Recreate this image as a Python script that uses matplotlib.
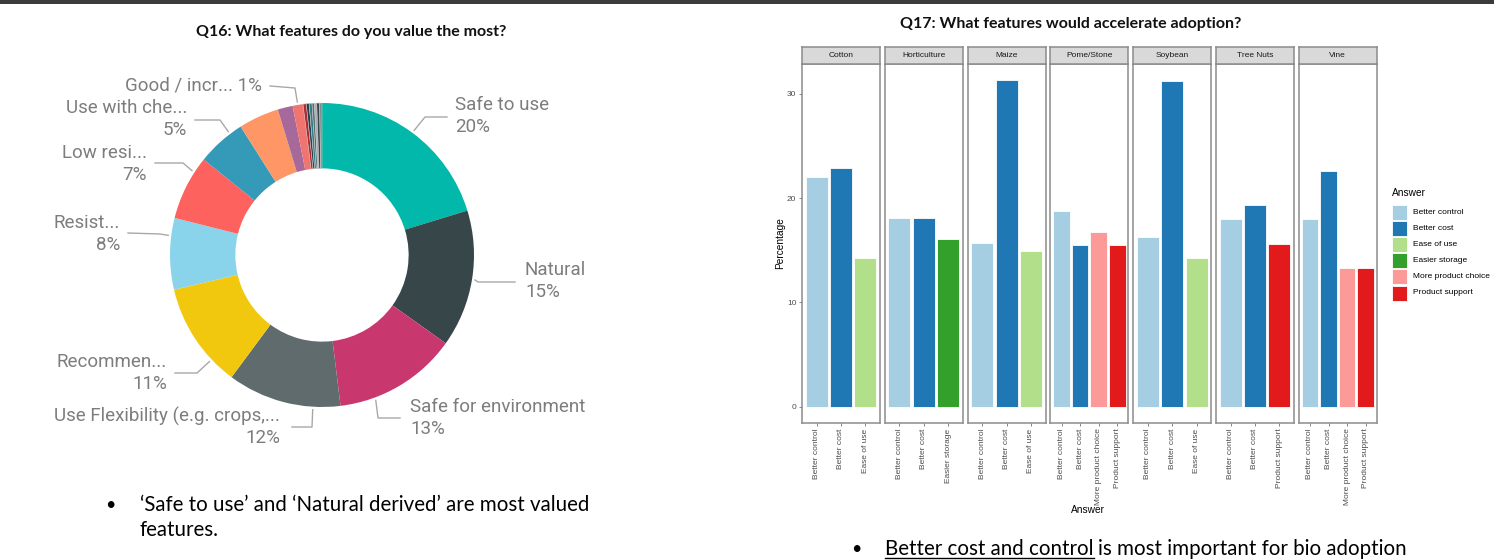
import matplotlib
matplotlib.use('agg')
import numpy as np
import matplotlib.pyplot as plt
from matplotlib.patches import Rectangle

W, H = 1494, 560

# ---- Q16 donut data ----
q16_labels = ['Safe to use', 'Natural', 'Safe for environment',
              'Use Flexibility (e.g. crops,...', 'Recommen...', 'Resist...',
              'Low resi...', 'Use with che...', 'Other 1', 'Other 2',
              'Good / incr...', 'Other 3', 'Other 4', 'Other 5', 'Other 6',
              'Other 7', 'Other 8', 'Other 9']
q16_values = [20.3, 14.6, 13.2, 12.1, 11.2, 7.6, 6.9, 5.2, 4.3, 1.6, 1.1,
              0.35, 0.3, 0.3, 0.25, 0.25, 0.3, 0.25]
q16_colors = ['#01B8AA', '#374649', '#C9376F', '#5F6B6D', '#F2C80F',
              '#8AD4EB', '#FD625E', '#3599B8', '#FE9666', '#A66999',
              '#F07470', '#B5282E', '#2C3E4A', '#2E7F86', '#5C6B70',
              '#A5B0B5', '#374649', '#7F8C8D']

# ---- Q17 facet data ----
crops = ['Cotton', 'Horticulture', 'Maize', 'Pome/Stone', 'Soybean',
         'Tree Nuts', 'Vine']
crop_answers = [
    ['Better control', 'Better cost', 'Ease of use'],
    ['Better control', 'Better cost', 'Easier storage'],
    ['Better control', 'Better cost', 'Ease of use'],
    ['Better control', 'Better cost', 'More product choice', 'Product support'],
    ['Better control', 'Better cost', 'Ease of use'],
    ['Better control', 'Better cost', 'Product support'],
    ['Better control', 'Better cost', 'More product choice', 'Product support'],
]
crop_pct = [
    [22.0, 22.9, 14.3],
    [18.1, 18.1, 16.1],
    [15.7, 31.3, 14.9],
    [18.8, 15.5, 16.8, 15.5],
    [16.3, 31.2, 14.3],
    [18.0, 19.3, 15.6],
    [18.0, 22.6, 13.3, 13.3],
]
answers = ['Better control', 'Better cost', 'Ease of use', 'Easier storage',
           'More product choice', 'Product support']
answer_colors = ['#A6CEE3', '#1F78B4', '#B2DF8A', '#33A02C', '#FB9A99',
                 '#E31A1C']
col_of = dict(zip(answers, answer_colors))

fig = plt.figure(figsize=(W / 100, H / 100), dpi=100)

# full-figure pixel canvas for the donut and slide text
base = fig.add_axes([0, 0, 1, 1])
cx, cy, R = 322, 255, 152
wedges, _ = base.pie(q16_values, colors=q16_colors, startangle=90,
                     counterclock=False, center=(cx, H - cy), radius=R,
                     wedgeprops=dict(width=R * 0.43, edgecolor='none'))
for w in wedges[11:]:
    w.set_edgecolor('#c8c8c8')
    w.set_linewidth(0.4)
base.set_xlim(0, W)
base.set_ylim(0, H)
base.set_aspect('auto')
base.axis('off')

# top dark band of the slide
base.add_patch(Rectangle((0, H - 3.5), W, 3.5, color='#3b3b3b', lw=0))

lbl_font = 'Roboto'
lbl_col = '#7d7d7d'
line_col = '#a8a8a8'
lbl_size = 13.5
# idx: (frac in wedge, elbow px, end px, text px, align)
label_layout = {
    0: (0.5, (425, 117), (447, 117), (455, 105), 'left'),
    1: (0.5, (478, 282), (515, 282), (525, 270), 'left'),
    2: (0.72, (378, 418), (400, 418), (410, 407), 'left'),
    3: (0.24, (312, 427), (292, 427), (280, 416), 'right'),
    4: (0.25, (197, 373), (175, 373), (167, 362), 'right'),
    5: (0.75, (160, 234), (128, 233), (120, 223), 'right'),
    6: (0.76, (183, 163), (155, 163), (147, 153), 'right'),
    7: (0.74, (220, 120), (195, 120), (187, 108), 'right'),
    10: (0.5, (295, 88), (270, 86), (262, 86), 'right'),
}
total = sum(q16_values)
cum = np.concatenate([[0], np.cumsum(q16_values)]) / total * 360
for i, (frac, elbow, end, tpos, ha) in label_layout.items():
    ang = np.deg2rad(cum[i] + frac * (cum[i + 1] - cum[i]))
    sx = cx + (R + 3) * np.sin(ang)
    sy = cy - (R + 3) * np.cos(ang)
    xs = [sx, elbow[0], end[0]]
    ys = [H - sy, H - elbow[1], H - end[1]]
    base.plot(xs, ys, color=line_col, lw=1, clip_on=False)
    pct = '%d%%' % round(q16_values[i])
    if i == 10:
        base.text(tpos[0], H - tpos[1], q16_labels[i] + ' ' + pct, ha=ha,
                  va='center', fontsize=lbl_size, color=lbl_col,
                  family=lbl_font)
    else:
        base.text(tpos[0], H - tpos[1], q16_labels[i], ha=ha, va='center',
                  fontsize=lbl_size, color=lbl_col, family=lbl_font)
        base.text(tpos[0], H - tpos[1] - 22, pct, ha=ha, va='center',
                  fontsize=lbl_size, color=lbl_col, family=lbl_font)

# titles
base.text(351, H - 32, 'Q16: What features do you value the most?',
          ha='center', va='center', fontsize=11.5, fontweight='bold',
          family='Lato', color='#111111')
base.text(1071, H - 24, 'Q17: What features would accelerate adoption?',
          ha='center', va='center', fontsize=11.5, fontweight='bold',
          family='Lato', color='#111111')

# bullets
bfs = 14.8
base.text(105, H - 505, '\u2022', ha='left', va='center', fontsize=13,
          family='Lato', color='black')
base.text(140, H - 505, '\u2018Safe to use\u2019 and \u2018Natural derived\u2019 '
          'are most valued', ha='left', va='center', fontsize=bfs,
          family='Lato', color='black')
base.text(140, H - 530, 'features.', ha='left', va='center', fontsize=bfs,
          family='Lato', color='black')
base.text(851, H - 549, '\u2022', ha='left', va='center', fontsize=13,
          family='Lato', color='black')
t1 = base.text(885, H - 549, 'Better cost and control', ha='left',
               va='center', fontsize=bfs, family='Lato', color='black')
fig.canvas.draw()
bb = t1.get_window_extent().transformed(base.transData.inverted())
base.plot([bb.x0, bb.x1], [bb.y0 + 1, bb.y0 + 1], color='black', lw=1)
base.text(bb.x1 + 4, H - 549, 'is most important for bio adoption',
          ha='left', va='center', fontsize=bfs, family='Lato', color='black')

# ---- Q17 facets ----
gg_font = 'Liberation Sans'
gfs = 6
top_px, bot_px, strip_px = 64, 423, 17
left0, step, pw = 802, 82.8, 78
ymax = max(max(v) for v in crop_pct)
pad = ymax * 0.05
for i, crop in enumerate(crops):
    lx = left0 + i * step
    ax = fig.add_axes([lx / W, 1 - bot_px / H, pw / W, (bot_px - top_px) / H])
    n = len(crop_answers[i])
    pos = np.arange(1, n + 1)
    ax.bar(pos, crop_pct[i], width=0.9,
           color=[col_of[a] for a in crop_answers[i]],
           edgecolor='white', linewidth=0.6)
    ax.set_xlim(0.4, n + 0.6)
    ax.set_ylim(-pad, ymax + pad)
    ax.set_xticks(pos)
    ax.set_xticklabels(crop_answers[i], rotation=90, fontsize=gfs,
                       color='#4d4d4d', family=gg_font)
    ax.tick_params(axis='x', length=2.5, width=0.5, color='#555555', pad=1.5)
    if i == 0:
        ax.set_yticks([0, 10, 20, 30])
        ax.set_yticklabels(['0', '10', '20', '30'], fontsize=gfs,
                           color='#4d4d4d', family=gg_font)
        ax.tick_params(axis='y', length=2.5, width=0.5, color='#555555',
                       pad=1.5)
    else:
        ax.set_yticks([])
    for s in ax.spines.values():
        s.set_color('#8c8c8c')
        s.set_linewidth(1.1)
    sx = fig.add_axes([lx / W, 1 - top_px / H, pw / W, strip_px / H])
    sx.set_facecolor('#d9d9d9')
    sx.set_xticks([])
    sx.set_yticks([])
    for s in sx.spines.values():
        s.set_color('#8c8c8c')
        s.set_linewidth(1.1)
    sx.text(0.5, 0.5, crop, ha='center', va='center', fontsize=gfs,
            color='#1a1a1a', family=gg_font, transform=sx.transAxes)

fig.text(780 / W, 1 - 243 / H, 'Percentage', rotation=90, ha='center',
         va='center', fontsize=7.3, family=gg_font, color='black')
fig.text(1088 / W, 1 - 510 / H, 'Answer', ha='center', va='center',
         fontsize=7.3, family=gg_font, color='black')

# legend
fig.text(1392 / W, 1 - 193 / H, 'Answer', ha='left', va='center',
         fontsize=7.3, family=gg_font, color='black')
for k, (a, c) in enumerate(zip(answers, answer_colors)):
    yc = 212 + k * 16.2
    fig.add_artist(Rectangle((1392 / W, 1 - (yc + 7.5) / H), 15 / W, 15 / H,
                             facecolor=c, edgecolor='white', lw=0.6,
                             transform=fig.transFigure))
    fig.text(1413 / W, 1 - yc / H, a, ha='left', va='center', fontsize=gfs,
             family=gg_font, color='black')

fig.savefig('out.png', dpi=100)
